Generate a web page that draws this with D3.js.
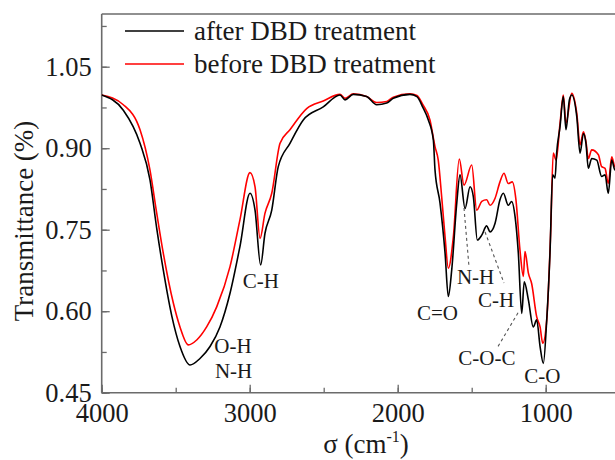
<!DOCTYPE html>
<html>
<head>
<meta charset="utf-8">
<script src="https://cdn.jsdelivr.net/npm/d3@7"></script>
<style>
  html, body { margin: 0; padding: 0; background: #fff; }
  svg { display: block; }
  text { font-family: "Liberation Serif", "Times New Roman", serif; fill: #1a1a1a; }
</style>
</head>
<body>
<svg id="chart" width="615" height="460"></svg>
<script>
// ---------- data ----------
const waveAfter = [4000,3854,3741,3674,3628,3584,3527,3471,3403,3336,3268,3201,3133,3066,2998,2964,2926,2897,2851,2807,2728,2638,2503,2390,2356,2300,2210,2142,2074,2030,1917,1870,1830,1793,1759,1748,1714,1680,1658,1635,1601,1579,1545,1511,1489,1462,1432,1399,1376,1342,1309,1286,1253,1230,1207,1185,1162,1145,1117,1084,1061,1038,1016,993,971,953,937,926,903,881,863,840,824,790,768,745,728,712,689,655,622,599,577,554,532,510];
const transAfter = [0.998,0.970,0.909,0.842,0.752,0.676,0.592,0.535,0.501,0.513,0.535,0.571,0.633,0.719,0.817,0.786,0.685,0.743,0.786,0.866,0.909,0.952,0.976,0.998,0.989,0.999,0.995,0.980,0.983,0.992,0.999,0.995,0.975,0.952,0.915,0.860,0.799,0.707,0.627,0.676,0.799,0.851,0.789,0.829,0.811,0.731,0.740,0.757,0.746,0.762,0.805,0.817,0.795,0.802,0.774,0.707,0.596,0.654,0.621,0.571,0.584,0.535,0.504,0.584,0.707,0.851,0.845,0.891,0.940,0.995,0.934,0.989,0.998,0.958,0.891,0.927,0.909,0.863,0.881,0.878,0.848,0.851,0.817,0.878,0.860,0.865];

const waveBefore = [4000,3854,3741,3674,3628,3584,3516,3471,3415,3358,3291,3223,3133,3066,2998,2964,2930,2897,2851,2795,2728,2615,2503,2390,2356,2300,2210,2142,2074,2030,1917,1870,1830,1782,1748,1726,1703,1680,1658,1624,1584,1552,1500,1466,1432,1399,1376,1342,1309,1282,1253,1226,1201,1174,1151,1140,1117,1095,1061,1038,1020,993,966,949,930,903,881,863,824,790,768,745,728,712,689,644,622,599,577,554,532,510];
const transBefore = [0.998,0.980,0.934,0.860,0.780,0.707,0.615,0.571,0.538,0.547,0.571,0.608,0.682,0.768,0.855,0.829,0.734,0.780,0.817,0.909,0.934,0.973,0.987,0.999,0.992,1.000,0.995,0.984,0.986,0.994,1.000,0.997,0.980,0.952,0.903,0.878,0.811,0.737,0.679,0.737,0.880,0.832,0.869,0.786,0.802,0.805,0.795,0.808,0.838,0.854,0.835,0.838,0.805,0.713,0.664,0.710,0.670,0.651,0.590,0.571,0.541,0.584,0.749,0.891,0.878,0.946,0.998,0.946,1.001,0.964,0.906,0.930,0.912,0.881,0.897,0.888,0.866,0.863,0.835,0.884,0.866,0.870];

const seriesNames = ["after DBD treatment", "before DBD treatment"];
const xTicks = [4000, 3000, 2000, 1000];
const xMinorTicks = [4000, 3500, 3000, 2500, 2000, 1500, 1000, 500];
const yTicks = [0.45, 0.60, 0.75, 0.90, 1.05];
const yMinorTicks = [0.45, 0.525, 0.60, 0.675, 0.75, 0.825, 0.90, 0.975, 1.05, 1.125];

// annotations: label, wavenumber, transmittance (anchor of text centre/baseline)
const annoLabels = ["O-H", "N-H", "C-H", "C=O", "N-H", "C-H", "C-O-C", "C-O"];
const annoWave   = [3113, 3109, 2924, 1731, 1474, 1336, 1397, 1022];
const annoTrans  = [0.523, 0.477, 0.643, 0.584, 0.650, 0.608, 0.501, 0.468];
// dashed leader lines
const leaderWave1 = [1552, 1410, 1187];
const leaderT1    = [0.790, 0.746, 0.597];
const leaderWave2 = [1518, 1282, 1329];
const leaderT2    = [0.681, 0.652, 0.532];

// ---------- layout ----------
const svg = d3.select("#chart");
const mLeft = 101.7, mRight = 619.7, mTop = 14, mBottom = 392.7;

const x = d3.scaleLinear().domain([4000, 500]).range([mLeft, mRight]);
const y = d3.scaleLinear().domain([0.45, 1.147]).range([mBottom, mTop]);

const axisColor = "#6b6b6b";

// frame top line
svg.append("line")
  .attr("x1", mLeft).attr("x2", 615).attr("y1", mTop).attr("y2", mTop)
  .attr("stroke", axisColor).attr("stroke-width", 1.6);

// minor ticks
const gxMinor = svg.append("g").attr("transform", `translate(0,${mBottom})`)
  .call(d3.axisBottom(x).tickValues(xMinorTicks).tickSizeInner(-5).tickSizeOuter(0).tickFormat(""));
const gyMinor = svg.append("g").attr("transform", `translate(${mLeft},0)`)
  .call(d3.axisLeft(y).tickValues(yMinorTicks).tickSizeInner(-5).tickSizeOuter(0).tickFormat(""));
[gxMinor, gyMinor].forEach(g => {
  g.select(".domain").remove();
  g.selectAll("line").attr("stroke", axisColor).attr("stroke-width", 1.3);
});

// major axes
const gx = svg.append("g").attr("transform", `translate(0,${mBottom})`)
  .call(d3.axisBottom(x).tickValues(xTicks).tickSizeInner(-8).tickSizeOuter(0).tickPadding(10).tickFormat(d3.format("d")));
const gy = svg.append("g").attr("transform", `translate(${mLeft},0)`)
  .call(d3.axisLeft(y).tickValues(yTicks).tickSizeInner(-8).tickSizeOuter(0).tickPadding(10).tickFormat(d3.format(".2f")));
[gx, gy].forEach(g => {
  g.select(".domain").attr("stroke", axisColor).attr("stroke-width", 1.6);
  g.selectAll(".tick line").attr("stroke", axisColor).attr("stroke-width", 1.3);
  g.selectAll("text").attr("font-size", 26.5).attr("fill", "#1a1a1a")
    .attr("font-family", '"Liberation Serif", "Times New Roman", serif');
});
gy.select(".domain").attr("d", `M0,${mBottom}V${mTop}`);
gx.select(".domain").attr("d", `M${mLeft},0H615`);

// axis titles
svg.append("text")
  .attr("transform", `translate(33,221) rotate(-90)`)
  .attr("text-anchor", "middle")
  .attr("font-size", 27)
  .text("Transmittance (%)");

const xt = svg.append("text")
  .attr("x", 366).attr("y", 453)
  .attr("text-anchor", "middle")
  .attr("font-size", 27);
xt.append("tspan").text("σ (cm");
xt.append("tspan").attr("font-size", 16).attr("dy", -11).text("-1");
xt.append("tspan").attr("dy", 11).text(")");

// clip
svg.append("clipPath").attr("id", "clip").append("rect")
  .attr("x", mLeft).attr("y", mTop).attr("width", mRight - mLeft).attr("height", mBottom - mTop);

const line = d3.line()
  .x(d => x(d[0])).y(d => y(d[1]))
  .curve(d3.curveMonotoneX);

const afterData = waveAfter.map((w, i) => [w, transAfter[i]]);
const beforeData = waveBefore.map((w, i) => [w, transBefore[i]]);

const plot = svg.append("g").attr("clip-path", "url(#clip)");
plot.append("path").datum(beforeData)
  .attr("d", line).attr("fill", "none").attr("stroke", "#ff0000").attr("stroke-width", 1.6)
  .attr("stroke-linejoin", "round");
plot.append("path").datum(afterData)
  .attr("d", line).attr("fill", "none").attr("stroke", "#000000").attr("stroke-width", 1.6)
  .attr("stroke-linejoin", "round");

// leader lines
leaderWave1.forEach((w, i) => {
  svg.append("line")
    .attr("x1", x(w)).attr("y1", y(leaderT1[i]))
    .attr("x2", x(leaderWave2[i])).attr("y2", y(leaderT2[i]))
    .attr("stroke", "#555").attr("stroke-width", 1.1)
    .attr("stroke-dasharray", "3,3");
});

// annotations
annoLabels.forEach((t, i) => {
  svg.append("text")
    .attr("x", x(annoWave[i])).attr("y", y(annoTrans[i]))
    .attr("text-anchor", "middle")
    .attr("font-size", 21)
    .text(t);
});

// legend
const legColors = ["#000000", "#ff0000"];
const legY = [31, 64];
seriesNames.forEach((n, i) => {
  svg.append("line")
    .attr("x1", 125).attr("x2", 184).attr("y1", legY[i]).attr("y2", legY[i])
    .attr("stroke", legColors[i]).attr("stroke-width", 1.6);
  svg.append("text")
    .attr("x", 194).attr("y", legY[i]).attr("dy", "0.33em")
    .attr("font-size", 27)
    .text(n);
});
</script>
</body>
</html>
